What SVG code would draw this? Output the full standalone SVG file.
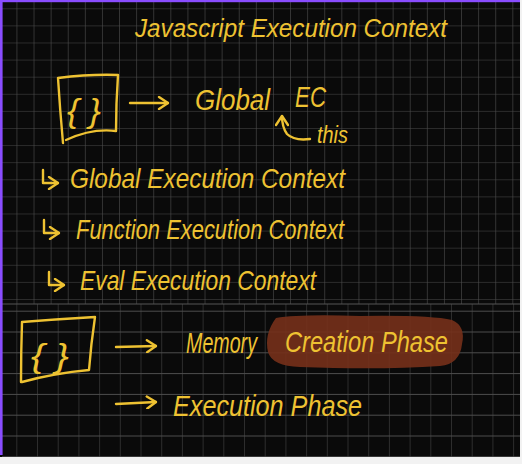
<svg xmlns="http://www.w3.org/2000/svg" width="522" height="464" viewBox="0 0 522 464">
<style>
.ink{fill:none;stroke:#eec232;stroke-width:2.4;stroke-linecap:round;stroke-linejoin:round}
.t{fill:#eec232;font-family:"Liberation Sans","DejaVu Sans",sans-serif;font-style:italic}
.grid{stroke:#4d4d4d;stroke-width:1}
</style>
<defs>
<pattern id="g1" x="0.3" y="8.3" width="17.1" height="17.1" patternUnits="userSpaceOnUse">
<path d="M17 0V17.1M0 0H17.1" class="grid"/>
</pattern>
<pattern id="g2" x="-3.4" y="310.7" width="20.7" height="20.8" patternUnits="userSpaceOnUse">
<path d="M20.7 0V20.8M0 0.5H20.7" class="grid"/>
</pattern>
<marker id="ah" viewBox="0 0 12 14" refX="11" refY="7" markerWidth="12" markerHeight="14" markerUnits="userSpaceOnUse" orient="auto">
<path d="M2 1L11 7L2 13" fill="none" stroke="#eec232" stroke-width="2.4" stroke-linecap="round" stroke-linejoin="round"/>
</marker>
</defs>
<rect width="522" height="464" fill="#f2f2f2"/>
<rect x="0" y="0" width="520" height="457" fill="#0a0a0a"/>
<rect x="2" y="2" width="518" height="302" fill="url(#g1)"/>
<rect x="2" y="304" width="518" height="153" fill="url(#g2)"/>
<line x1="2" y1="304" x2="520" y2="304" stroke="#555" stroke-width="1"/>
<rect x="0" y="0" width="520" height="2.2" fill="#8a4dff"/>
<rect x="0" y="0" width="2.6" height="455" fill="#8a4dff"/>

<g id="title"><text class="t" x="135" y="37" font-size="26" textLength="312" lengthAdjust="spacingAndGlyphs">Javascript Execution Context</text></g>

<g id="box1">
<path class="ink" d="M58 78Q90 74 118 75Q116 104 116 131Q92 128 66 140M58 78Q60 110 63 143"/>
<text class="t" x="67" y="122" font-size="34" textLength="34" lengthAdjust="spacingAndGlyphs">{ }</text>
</g>

<g id="global-ec">
<text class="t" x="195" y="110" font-size="30" textLength="75" lengthAdjust="spacingAndGlyphs">Global</text>
<text class="t" x="295" y="107" font-size="30" textLength="31" lengthAdjust="spacingAndGlyphs">EC</text>
</g>

<g id="this-label"><text class="t" x="317" y="143" font-size="24" textLength="31" lengthAdjust="spacingAndGlyphs">this</text></g>

<g id="list-global"><text class="t" x="70" y="188" font-size="28" textLength="275" lengthAdjust="spacingAndGlyphs">Global Execution Context</text></g>
<g id="list-function"><text class="t" x="76" y="239" font-size="28" textLength="268" lengthAdjust="spacingAndGlyphs">Function Execution Context</text></g>
<g id="list-eval"><text class="t" x="80" y="290" font-size="28" textLength="236" lengthAdjust="spacingAndGlyphs">Eval Execution Context</text></g>

<g id="box2">
<path class="ink" d="M22 322Q60 319 95 317Q91 344 89 370Q55 373 22 382M22 322Q21 352 21 382"/>
<text class="t" x="31" y="367" font-size="34" textLength="38" lengthAdjust="spacingAndGlyphs">{ }</text>
</g>

<g id="memory"><text class="t" x="186" y="353" font-size="30" textLength="71" lengthAdjust="spacingAndGlyphs">Memory</text></g>

<g id="creation-phase">
<path d="M276 318Q300 314 360 316Q430 315 452 320Q466 326 462 344Q460 364 440 366Q380 370 300 367Q272 366 268 352Q264 334 276 318Z" fill="#74301a" opacity="0.92"/>
<text class="t" x="285" y="352" font-size="30" textLength="163" lengthAdjust="spacingAndGlyphs">Creation Phase</text>
</g>

<g id="execution-phase"><text class="t" x="173" y="416" font-size="30" textLength="189" lengthAdjust="spacingAndGlyphs">Execution Phase</text></g>

<g id="connectors">
<path class="ink" d="M130 103L168 103" marker-end="url(#ah)"/>
<path class="ink" d="M310 139Q294 141 287 134Q282 127 282 116" marker-end="url(#ah)"/>
<path class="ink" d="M43 170L43 183L58 183" marker-end="url(#ah)"/>
<path class="ink" d="M44 220L44 233L59 233" marker-end="url(#ah)"/>
<path class="ink" d="M49 272L49 285L64 285" marker-end="url(#ah)"/>
<path class="ink" d="M116 347L156 346" marker-end="url(#ah)"/>
<path class="ink" d="M116 404L156 402" marker-end="url(#ah)"/>
</g>
</svg>
